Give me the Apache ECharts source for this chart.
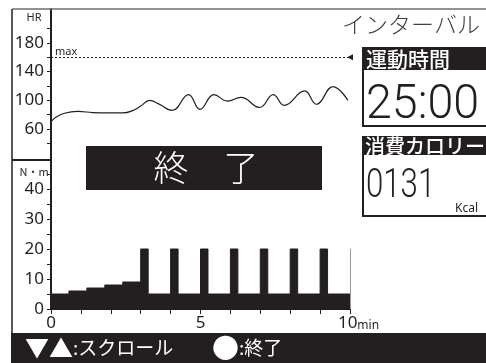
<!DOCTYPE html>
<html><head><meta charset="utf-8">
<script src="https://cdn.jsdelivr.net/npm/echarts@6/dist/echarts.min.js"></script>
<style>html,body{margin:0;padding:0;background:#fff}#c{width:486px;height:363px}</style>
</head><body><div id="c"></div>
<script>
// Heart rate (top panel)
const hrTimes  = [0, 0.15, 0.45, 0.9, 1.4, 1.9, 2.4, 2.75, 3.0, 3.3, 3.6, 4.05, 4.6, 4.98, 5.45, 5.9, 6.35, 6.98, 7.43, 7.8, 8.48, 8.88, 9.43, 9.93];
const hrValues = [70, 76, 82, 84.5, 83, 82.5, 82.5, 86, 92, 100, 95, 86, 108, 87.5, 108, 99, 104, 90, 108, 93, 113, 94.5, 119, 100];
const hrMax = 160;
const hrTickValues = [40, 60, 80, 100, 120, 140, 160, 180, 200];
const hrLabelValues = [60, 100, 140, 180];
// Torque (bottom panel), value held from each time until the next
const torqueTimes  = [0, 0.6, 1.2, 1.8, 2.4, 3.0, 3.25, 4.0, 4.25, 5.0, 5.25, 6.0, 6.25, 7.0, 7.25, 8.0, 8.25, 9.0, 9.25, 10];
const torqueValues = [5, 6, 7, 8, 9, 20, 5, 20, 5, 20, 5, 20, 5, 20, 5, 20, 5, 20, 5, 5];
const nmTickValues = [0, 5, 10, 15, 20, 25, 30, 35, 40, 45];
const nmLabelValues = [0, 10, 20, 30, 40];
const timeTickValues = [0, 1, 2, 3, 4, 5, 6, 7, 8, 9, 10];
const timeLabelValues = [0, 5, 10];
// Texts
const modeTitle = 'インターバル';
const timeHeader = '運動時間';
const timeValue = '25:00';
const calHeader = '消費カロリー';
const calValue = '0131';
const calUnit = 'Kcal';
const statusText = '終　了';
const footerLeftIcon = '▼▲';
const footerLeftText = ':スクロール';
const footerRightIcon = '●';
const footerRightText = ':終了';

const K = '#231f20';
const tickFont = 'Noto Sans';
const chart = echarts.init(document.getElementById('c'));

const hrData = hrTimes.map((t, i) => [t, hrValues[i]]);
const tqData = torqueTimes.map((t, i) => [t, torqueValues[i]]);

chart.setOption({
  animation: false,
  backgroundColor: '#fff',
  grid: [
    {left: 51, right: 136, top: 9, height: 151},
    {left: 51, right: 136, top: 159, height: 150}
  ],
  xAxis: [
    {gridIndex: 0, type: 'value', min: 0, max: 10, show: false},
    {gridIndex: 1, type: 'value', min: 0, max: 10, interval: 1,
      axisLine: {show: true, lineStyle: {color: K, width: 1}},
      axisTick: {show: true, length: 5, customValues: timeTickValues, lineStyle: {color: K, width: 1}},
      splitLine: {show: false},
      axisLabel: {customValues: timeLabelValues, margin: 6, color: K, fontFamily: tickFont, fontSize: 17,
        formatter: v => v === 10 ? '{p|}{a|10}{b|min}' : String(v),
        rich: {p: {width: 17}, a: {fontSize: 17, fontFamily: tickFont, color: K}, b: {fontSize: 12, fontFamily: tickFont, color: K, verticalAlign: 'bottom', padding: [4,0,0,0]}}}
    }
  ],
  yAxis: [
    {gridIndex: 0, type: 'value', min: 17, max: 227,
      axisLine: {show: true, lineStyle: {color: K, width: 2}},
      axisTick: {show: true, length: 4, customValues: hrTickValues, lineStyle: {color: K, width: 1}},
      splitLine: {show: false},
      axisLabel: {customValues: hrLabelValues, margin: 7, color: K, fontFamily: tickFont, fontSize: 17}
    },
    {gridIndex: 1, type: 'value', min: 0, max: 50,
      axisLine: {show: true, lineStyle: {color: K, width: 2}},
      axisTick: {show: true, length: 4, customValues: nmTickValues, lineStyle: {color: K, width: 1}},
      splitLine: {show: false},
      axisLabel: {customValues: nmLabelValues, margin: 7, color: K, fontFamily: tickFont, fontSize: 17}
    }
  ],
  series: [
    {type: 'line', xAxisIndex: 0, yAxisIndex: 0, data: hrData, smooth: 0.45, showSymbol: false,
      lineStyle: {color: K, width: 1.2}, z: 3,
      markLine: {silent: true, symbol: ['none', 'triangle'], symbolSize: 6, symbolRotate: [0, 90],
        label: {show: false},
        lineStyle: {color: K, type: [2, 2], width: 1},
        itemStyle: {color: K},
        data: [[{coord: [0, hrMax]}, {coord: [10, hrMax]}]]}
    },
    {type: 'line', xAxisIndex: 1, yAxisIndex: 1, data: tqData, step: 'end', showSymbol: false,
      lineStyle: {color: K, width: 1}, areaStyle: {color: K, opacity: 1}, z: 2,
      markLine: {silent: true, symbol: 'none', label: {show: false},
        lineStyle: {color: '#9a9a9a', type: 'solid', width: 1},
        data: [[{coord: [10, 0]}, {coord: [10, 20]}]]}
    }
  ],
  graphic: [
    {type: 'line', shape: {x1: 12, y1: 9, x2: 486, y2: 9}, style: {stroke: '#6d6e71', lineWidth: 1.5}, z: 10},
    {type: 'line', shape: {x1: 12, y1: 9, x2: 12, y2: 334}, style: {stroke: K, lineWidth: 1.5}, z: 10},
    {type: 'line', shape: {x1: 12, y1: 160, x2: 51, y2: 160}, style: {stroke: K, lineWidth: 2}, z: 10},
    {type: 'text', x: 34, y: 18, style: {text: 'HR', fill: K, font: '11px "Noto Sans"', align: 'center', verticalAlign: 'middle'}, z: 10},
    {type: 'text', x: 34, y: 172, style: {text: 'N・m', fill: K, font: '11px "Noto Sans CJK JP"', align: 'center', verticalAlign: 'middle'}, z: 10},
    {type: 'text', x: 55, y: 52, style: {text: 'max', fill: K, font: '11px "Noto Sans"', align: 'left', verticalAlign: 'middle'}, z: 10},
    {type: 'text', x: 342, y: 24, style: {text: modeTitle, fill: '#414042', font: '300 23px "Noto Sans CJK JP"', align: 'left', verticalAlign: 'middle'}, z: 10},
    // box 1
    {type: 'rect', shape: {x: 362, y: 47, width: 124, height: 23}, style: {fill: K}, z: 10},
    {type: 'text', x: 366, y: 59, style: {text: timeHeader, fill: '#fff', font: '500 21px "Noto Sans CJK JP"', align: 'left', verticalAlign: 'middle'}, z: 11},
    {type: 'line', shape: {x1: 363, y1: 70, x2: 363, y2: 127}, style: {stroke: K, lineWidth: 2}, z: 10},
    {type: 'line', shape: {x1: 362, y1: 126, x2: 486, y2: 126}, style: {stroke: K, lineWidth: 2}, z: 10},
    {type: 'text', x: 366, y: 106, scaleX: 0.95, style: {text: timeValue, fill: K, font: '300 49px Roboto', align: 'left', verticalAlign: 'middle'}, z: 10},
    // box 2
    {type: 'rect', shape: {x: 362, y: 136, width: 124, height: 19}, style: {fill: K}, z: 10},
    {type: 'text', x: 365, y: 146, style: {text: calHeader, fill: '#fff', font: '500 20px "Noto Sans CJK JP"', align: 'left', verticalAlign: 'middle'}, z: 11},
    {type: 'line', shape: {x1: 363, y1: 155, x2: 363, y2: 217}, style: {stroke: K, lineWidth: 2}, z: 10},
    {type: 'line', shape: {x1: 362, y1: 216, x2: 486, y2: 216}, style: {stroke: K, lineWidth: 2}, z: 10},
    {type: 'text', x: 366, y: 187, scaleX: 0.78, style: {text: calValue, fill: K, font: '300 40px Roboto', align: 'left', verticalAlign: 'middle'}, z: 10},
    {type: 'text', x: 455, y: 209, style: {text: calUnit, fill: K, font: '12px "Noto Sans"', align: 'left', verticalAlign: 'middle'}, z: 10},
    // status label
    {type: 'rect', shape: {x: 86, y: 146, width: 236, height: 44}, style: {fill: K}, z: 20},
    {type: 'text', x: 206, y: 168, style: {text: statusText, fill: '#fff', font: '300 35px "Noto Sans CJK JP"', align: 'center', verticalAlign: 'middle'}, z: 21},
    // footer
    {type: 'rect', shape: {x: 11, y: 333, width: 475, height: 30}, style: {fill: K}, z: 10},
    {type: 'text', x: 25, y: 348, style: {text: '{i|' + footerLeftIcon + '}{s|' + footerLeftText + '}', fill: '#fff', align: 'left', verticalAlign: 'middle',
      rich: {i: {fill: '#fff', fontSize: 24, fontFamily: 'Noto Sans CJK JP'}, s: {fill: '#fff', fontSize: 19, fontFamily: 'Noto Sans CJK JP'}}}, z: 11},
    {type: 'text', x: 212, y: 348, style: {text: '{i|' + footerRightIcon + '}{s|' + footerRightText + '}', fill: '#fff', align: 'left', verticalAlign: 'middle',
      rich: {i: {fill: '#fff', fontSize: 27, fontFamily: 'Noto Sans CJK JP'}, s: {fill: '#fff', fontSize: 19, fontFamily: 'Noto Sans CJK JP'}}}, z: 11}
  ]
});
</script></body></html>
